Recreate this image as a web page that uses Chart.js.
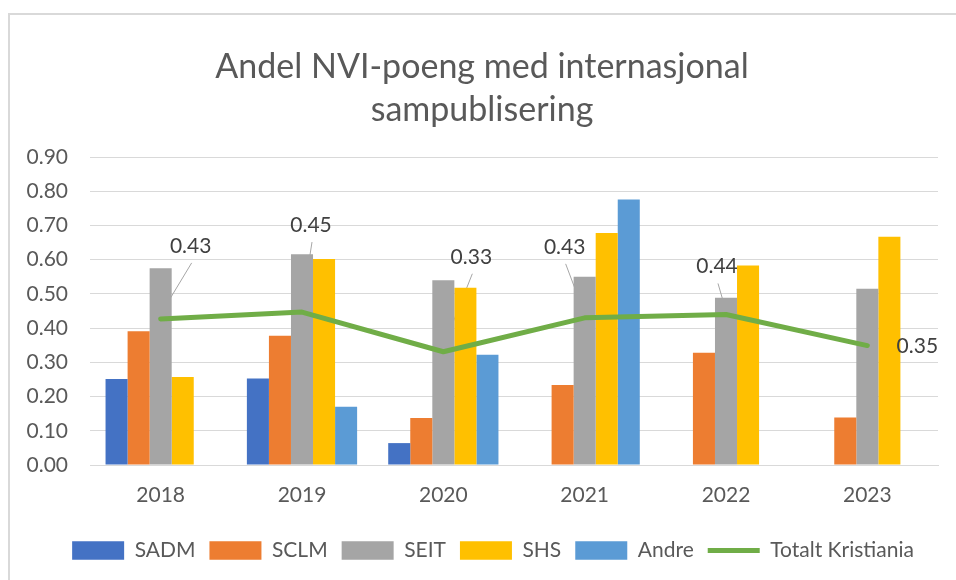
<!DOCTYPE html>
<html>
<head>
<meta charset="utf-8">
<script src="https://cdn.jsdelivr.net/npm/chart.js@4/dist/chart.umd.min.js"></script>
<style>
  html, body { margin: 0; padding: 0; background: #ffffff; overflow: hidden; }
  #wrap { position: relative; width: 956px; height: 580px; }
  #frame { position: absolute; left: 8px; top: 13px; width: 980px; height: 600px;
           border-left: 2px solid #D9D9D9; border-top: 2px solid #D9D9D9; box-sizing: border-box; }
  #c { position: absolute; left: 0; top: 0; }
</style>
</head>
<body>
<div id="wrap">
  <div id="frame"></div>
  <canvas id="c" width="956" height="580"></canvas>
</div>
<script>
// ---- data ----
const categories = ['2018', '2019', '2020', '2021', '2022', '2023'];
const sadm   = [0.251, 0.253, 0.064, null, null, null];
const sclm   = [0.391, 0.378, 0.137, 0.234, 0.328, 0.139];
const seit   = [0.575, 0.616, 0.540, 0.550, 0.489, 0.515];
const shs    = [0.257, 0.602, 0.518, 0.678, 0.583, 0.667];
const andre  = [null, 0.170, 0.322, 0.776, null, null];
const totalt = [0.427, 0.447, 0.331, 0.430, 0.440, 0.349];
const yMin = 0, yMax = 0.9, yStep = 0.1;
const titleLines = ['Andel NVI-poeng med internasjonal', 'sampublisering'];

const FONT = 'Lato, "Open Sans", sans-serif';
const TXT = '#595959';

// label placement relative to each line point (dx, dy, leader)
const labelPlacement = [[30, -73, true], [9, -87, true], [28, -95, true], [-20, -71, true], [-9, -48, true], [50, 1, false]];

const lineLabels = {
  id: 'lineLabels',
  afterLayout(chart) {
    if (chart.legend) { chart.legend.left += 11; chart.legend.right += 11; }
  },
  beforeDatasetsDraw(chart) {
    const meta = chart.getDatasetMeta(5);
    const ctx = chart.ctx;
    ctx.save();
    ctx.strokeStyle = '#A6A6A6';
    ctx.lineWidth = 1;
    meta.data.forEach((pt, i) => {
      const [dx, dy, leader] = labelPlacement[i];
      if (!leader) return;
      ctx.beginPath();
      ctx.moveTo(pt.x + dx + 1, pt.y + dy + 17);
      ctx.lineTo(pt.x + dx * 0.2, pt.y + dy * 0.2);
      ctx.stroke();
    });
    ctx.restore();
  },
  afterDatasetsDraw(chart) {
    const meta = chart.getDatasetMeta(5);
    const ctx = chart.ctx;
    ctx.save();
    ctx.font = '21px ' + FONT;
    ctx.fillStyle = '#404040';
    ctx.textAlign = 'center';
    ctx.textBaseline = 'middle';
    meta.data.forEach((pt, i) => {
      const [dx, dy] = labelPlacement[i];
      ctx.fillText(totalt[i].toFixed(2), pt.x + dx, pt.y + dy);
    });
    ctx.restore();
  }
};

const barDs = (label, data, color) => ({
  type: 'bar', label, data, backgroundColor: color, borderWidth: 0,
  categoryPercentage: 0.78, barPercentage: 1.0, pointStyle: 'rect', order: 1
});

new Chart(document.getElementById('c'), {
  data: {
    labels: categories,
    datasets: [
      barDs('SADM', sadm, '#4472C4'),
      barDs('SCLM', sclm, '#ED7D31'),
      barDs('SEIT', seit, '#A5A5A5'),
      barDs('SHS', shs, '#FFC000'),
      barDs('Andre', andre, '#5B9BD5'),
      {
        type: 'line', label: 'Totalt Kristiania', data: totalt,
        borderColor: '#70AD47', backgroundColor: '#70AD47', borderWidth: 5,
        pointRadius: 0, pointHoverRadius: 0, pointStyle: 'line',
        borderCapStyle: 'round', borderJoinStyle: 'round', tension: 0, order: 0
      }
    ]
  },
  options: {
    responsive: false,
    animation: false,
    layout: { padding: { left: 26, right: 18, top: 0, bottom: 9 } },
    plugins: {
      title: {
        display: true, text: titleLines, color: TXT,
        font: { family: FONT, size: 34, weight: 'normal', lineHeight: 1.28 },
        padding: { top: 45, bottom: 25 }
      },
      legend: {
        position: 'bottom',
        labels: {
          usePointStyle: true, pointStyleWidth: 52, boxHeight: 18.4,
          color: TXT, padding: 14,
          font: { family: FONT, size: 21 },
          sort: (a, b) => a.datasetIndex - b.datasetIndex
        }
      },
      tooltip: { enabled: false }
    },
    scales: {
      x: {
        grid: { display: false, drawTicks: false },
        border: { display: true, color: '#D9D9D9', width: 1 },
        ticks: { color: TXT, font: { family: FONT, size: 21 }, padding: 18 },
        afterFit(scale) { scale.height = 61; }
      },
      y: {
        min: yMin, max: yMax,
        grid: { color: '#D9D9D9', lineWidth: 1, drawTicks: false },
        border: { display: false },
        ticks: {
          stepSize: yStep, color: TXT, padding: 22,
          font: { family: FONT, size: 21 },
          callback: v => Number(v).toFixed(2)
        },
        afterFit(scale) { scale.width = 64; }
      }
    }
  },
  plugins: [lineLabels]
});
</script>
</body>
</html>
